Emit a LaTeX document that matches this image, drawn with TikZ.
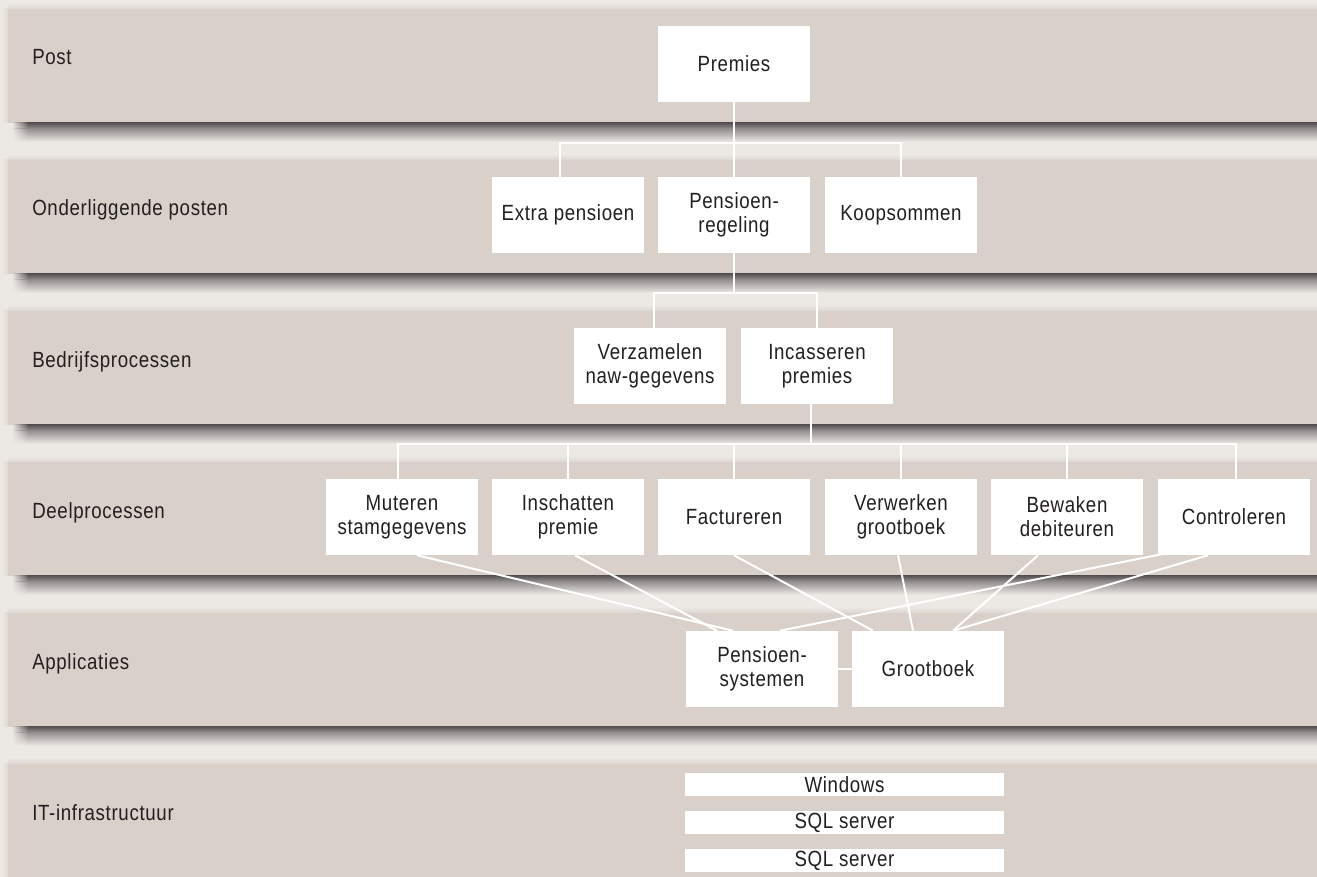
\documentclass[tikz,border=0pt]{standalone}
\usepackage{fontspec}
\setmainfont{Liberation Sans}[FakeStretch=0.85,LetterSpace=3]
\usetikzlibrary{calc,fadings}
\definecolor{bg}{RGB}{236,232,228}
\definecolor{band}{RGB}{217,209,201}
\definecolor{shdark}{RGB}{88,84,85}
\definecolor{shmid}{RGB}{150,145,144}
\definecolor{edgec}{RGB}{222,216,211}
\definecolor{txt}{RGB}{35,31,32}
\newcommand\fsz{\fontsize{16.5pt}{18pt}\selectfont}
\pgfdeclarelayer{bands}
\pgfdeclarelayer{lines}
\pgfsetlayers{bands,lines,main}
\tikzfading[name=fadein, left color=transparent!100, right color=transparent!0]
\begin{document}
\begin{tikzpicture}[x=0.75pt,y=-0.75pt,
  box/.style={fill=white, inner sep=0pt, minimum width=114pt, minimum height=57pt, align=center, text=txt, font=\fsz},
  bar/.style={fill=white, inner sep=0pt, minimum width=239.25pt, minimum height=17.25pt, text=txt, font=\fsz},
  lbl/.style={anchor=base west, inner sep=0pt, text=txt, font=\fsz},
  conn/.style={draw=white, line width=1.5pt, line join=miter}]
\useasboundingbox (0,0) rectangle (1317,877);

% ---------- nodes ----------
\node[box] (premies) at (734,64) {Premies};
\node[box] (extra) at (568,215) {Extra pensioen};
\node[box] (pregeling) at (734,215) {Pensioen-\\regeling};
\node[box] (koop) at (901,215) {Koopsommen};
\node[box] (verz) at (650,366) {Verzamelen\\naw-gegevens};
\node[box] (inc) at (817,366) {Incasseren\\premies};
\node[box] (muteren) at (402,517) {Muteren\\stamgegevens};
\node[box] (inschatten) at (568,517) {Inschatten\\premie};
\node[box] (fact) at (734,517) {Factureren};
\node[box] (verw) at (901,517) {Verwerken\\grootboek};
\node[box] (bew) at (1067,517) {Bewaken\\debiteuren};
\node[box] (contr) at (1234,517) {Controleren};
\node[box] (pens) at (762,669) {Pensioen-\\systemen};
\node[box] (groot) at (928,669) {Grootboek};
\node[bar] (win) at (844.5,784.5) {Windows};
\node[bar] (sql1) at (844.5,822.5) {SQL server};
\node[bar] (sql2) at (844.5,860.5) {SQL server};

\node[lbl] (l1) at (32,65) {Post};
\node[lbl] (l2) at (32,216) {Onderliggende posten};
\node[lbl] (l3) at (32,367) {Bedrijfsprocessen};
\node[lbl] (l4) at (32,518) {Deelprocessen};
\node[lbl] (l5) at (32,669) {Applicaties};
\node[lbl] (l6) at (32,820) {IT-infrastructuur};

% ---------- bands ----------
\begin{pgfonlayer}{bands}
\fill[bg] (0,0) rectangle (1317,877);
\foreach \t in {9,159.9,310.8,461.7,612.6,763.5} {
  \shade[top color=bg, bottom color=edgec] (8,\t-6) rectangle (1317,\t);
  \shade[left color=bg, right color=edgec] (2,\t) rectangle (8,\t+114);
  \fill[band] (8,\t) rectangle (1317,\t+114);
}
\foreach \b in {123,273.9,424.8,575.7,726.6} {
  \shade[top color=shdark, bottom color=shmid] (28,\b) rectangle (1317,\b+6);
  \shade[top color=shmid, bottom color=bg] (28,\b+6) rectangle (1317,\b+19);
  \shade[top color=shdark, bottom color=shmid, path fading=fadein] (12,\b) rectangle (28.5,\b+6);
  \shade[top color=shmid, bottom color=bg, path fading=fadein] (12,\b+6) rectangle (28.5,\b+19);
}
\end{pgfonlayer}

% ---------- connectors ----------
\begin{pgfonlayer}{lines}
\coordinate (j1) at (734,143);
\coordinate (j2) at (734,293);
\coordinate (j3) at (811,444);
\draw[conn] (premies.south) -- (pregeling.north);
\draw[conn] ([xshift=-6pt]extra.north) |- (j1) -| (koop.north);
\draw[conn] (pregeling.south) -- (j2);
\draw[conn] ([xshift=3pt]verz.north) |- (j2) -| (inc.north);
\draw[conn] ([xshift=-4.5pt]inc.south) -- (j3);
\draw[conn] ([xshift=-3pt]muteren.north) |- (j3) -| ([xshift=1.5pt]contr.north);
\foreach \n in {inschatten,fact,verw,bew}
  \draw[conn] (\n.north) -- (\n.north |- j3);
% deelprocessen -> applicaties
\draw[conn] ($(muteren.south)+(15,0)$) -- ($(pens.north)+(-29,0)$);
\draw[conn] ($(inschatten.south)+(7,0)$) -- ($(pens.north)+(-45,0)$);
\draw[conn] (fact.south) -- ($(groot.north)+(-55,0)$);
\draw[conn] ($(verw.south)+(-3,0)$) -- ($(groot.north)+(-15,0)$);
\draw[conn] ($(bew.south)+(-29,0)$) -- ($(groot.north)+(25,0)$);
\draw[conn] ($(contr.south)+(-26,0)$) -- ($(groot.north)+(25,0)$);
\draw[conn] ($(pens.north)+(18,0)$) -- ($(contr.south west)+(22,-4.7)$);
\draw[conn] (pens.east) -- (groot.west);
\end{pgfonlayer}
\end{tikzpicture}
\end{document}
